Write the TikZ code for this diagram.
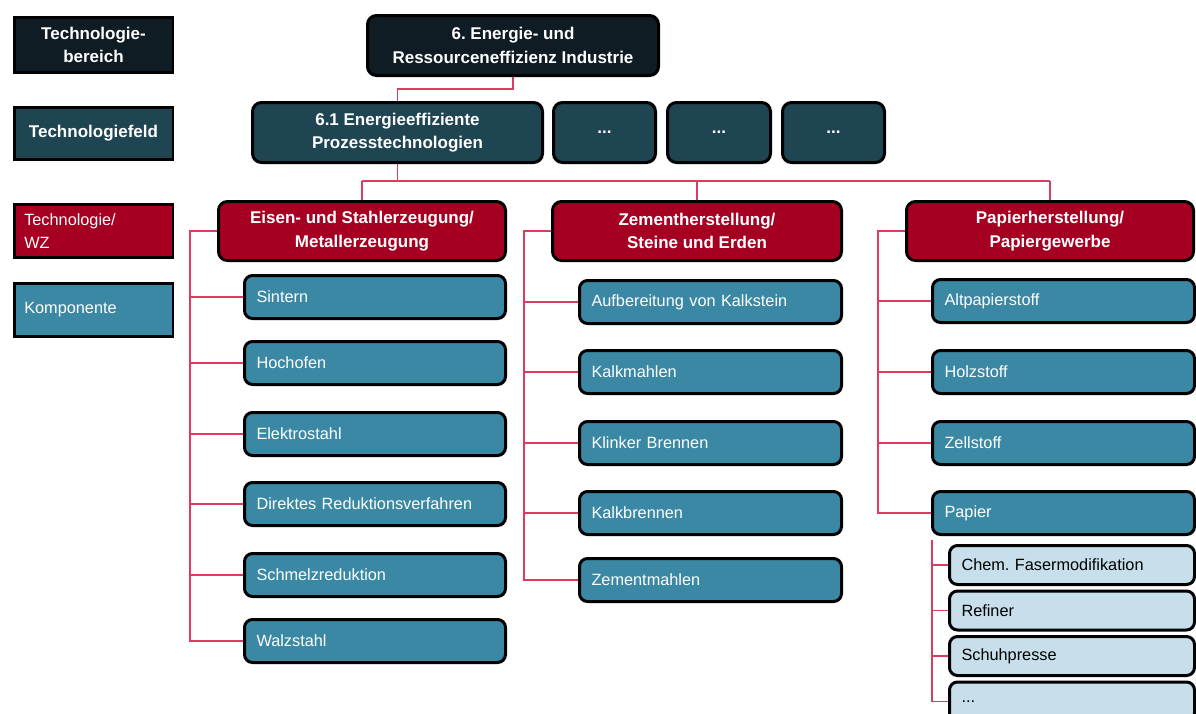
\documentclass[tikz,border=0pt]{standalone}
\usepackage{fontspec}
\setmainfont{Liberation Sans}
\usetikzlibrary{calc}
\definecolor{cdark}{HTML}{0F1C23}
\definecolor{cfeld}{HTML}{1F4452}
\definecolor{cred}{HTML}{A50021}
\definecolor{ccomp}{HTML}{3A88A3}
\definecolor{csub}{HTML}{C6DFEA}
\definecolor{cconn}{HTML}{E03A5E}
\newcommand\bfs{\fontsize{17}{23.5}\selectfont\bfseries}
\newcommand\nfs{\fontsize{16.3}{23}\selectfont}
\pgfdeclarelayer{bg}
\pgfsetlayers{bg,main}
\tikzset{
  bx/.style={draw=black, line width=3pt, rounded corners=9pt, text=white, align=center, inner sep=0pt, font=\bfs},
  comp/.style={draw=black, line width=3pt, rounded corners=8pt, fill=ccomp, text=white, font=\nfs, anchor=west,
    outer sep=0pt, inner xsep=12pt, inner ysep=0pt, minimum height=43pt, align=left, text width=#1},
  sub/.style={comp=#1, fill=csub, text=black, minimum height=39pt},
  leg/.style={draw=black, line width=2.5pt, minimum width=158.5pt, text=white, inner sep=0pt},
  legl/.style={leg, align=left, text width=138.5pt, inner xsep=10pt, font=\nfs},
  legc/.style={leg, align=center, font=\bfs},
  conn/.style={draw=cconn, line width=1.6pt}
}
\begin{document}
\frenchspacing
\begin{tikzpicture}[x=1pt,y=-1pt]
\useasboundingbox (0,0) rectangle (1196,713);
\clip (0,0) rectangle (1196,713);

% legend
\node[legc, fill=cdark, minimum height=55pt] (l1) at (93.5,45) {Technologie-\\bereich};
\node[legc, fill=cfeld, minimum height=52pt] (l2) at (93.5,133.5) {Technologiefeld};
\node[legl, fill=cred, minimum height=53pt] (l3) at (93.5,231) {Technologie/\\WZ};
\node[legl, fill=ccomp, minimum height=53pt] (l4) at (93.5,310) {Komponente};

% top
\node[bx, fill=cdark, minimum width=291pt, minimum height=60pt] (top) at (513,45.5) {6. Energie- und\\Ressourceneffizienz Industrie};

% technologiefelder
\node[bx, fill=cfeld, minimum width=290pt, minimum height=60pt] (f61) at (397.5,132.5) {6.1 Energieeffiziente\\Prozesstechnologien};
\node[bx, fill=cfeld, minimum width=102pt, minimum height=60pt] (d1) at (604.5,132.5) {...};
\node[bx, fill=cfeld, minimum width=103pt, minimum height=60pt] (d2) at (719,132.5) {...};
\node[bx, fill=cfeld, minimum width=102pt, minimum height=60pt] (d3) at (833.5,132.5) {...};

% technologien
\node[bx, fill=cred, minimum width=287pt, minimum height=59pt] (eisen) at (362,231) {Eisen- und Stahlerzeugung/\\Metallerzeugung};
\node[bx, fill=cred, minimum width=289pt, minimum height=59pt] (zement) at (697,231) {Zementherstellung/\\Steine und Erden};
\node[bx, fill=cred, minimum width=287pt, minimum height=59pt] (papier) at (1050,231) {Papierherstellung/\\Papiergewerbe};

% Eisen components
\node[comp=237pt] (e1) at (244.5,297) {Sintern};
\node[comp=237pt] (e2) at (244.5,363) {Hochofen};
\node[comp=237pt] (e3) at (244.5,434) {Elektrostahl};
\node[comp=237pt] (e4) at (244.5,504) {Direktes Reduktionsverfahren};
\node[comp=237pt] (e5) at (244.5,575) {Schmelzreduktion};
\node[comp=237pt] (e6) at (244.5,641) {Walzstahl};

% Zement components
\node[comp=238pt] (z1) at (579.5,302) {Aufbereitung von Kalkstein};
\node[comp=238pt] (z2) at (579.5,372) {Kalkmahlen};
\node[comp=238pt] (z3) at (579.5,443) {Klinker Brennen};
\node[comp=238pt] (z4) at (579.5,513) {Kalkbrennen};
\node[comp=238pt] (z5) at (579.5,580) {Zementmahlen};

% Papier components
\node[comp=238pt] (p1) at (932.5,301) {Altpapierstoff};
\node[comp=238pt] (p2) at (932.5,372) {Holzstoff};
\node[comp=238pt] (p3) at (932.5,443) {Zellstoff};
\node[comp=238pt] (p4) at (932.5,513) {Papier};

% Papier sub components
\node[sub=221pt] (s1) at (949.5,565) {Chem. Fasermodifikation};
\node[sub=221pt] (s2) at (949.5,610.5) {Refiner};
\node[sub=221pt] (s3) at (949.5,656) {Schuhpresse};
\node[sub=221pt] (s4) at (949.5,701.5) {...};

% connectors
\coordinate (h1) at (0,89);
\coordinate (h2) at (0,181);
\coordinate (eb) at (190,0);
\coordinate (zb) at (524,0);
\coordinate (pb) at (878,0);
\coordinate (sb) at (932,540);
\begin{pgfonlayer}{bg}
\draw[conn] (top.south) -- (top.south |- h1) -| (f61.north);
\draw[conn] (f61.south) -- (f61.south |- h2);
\draw[conn] (eisen.north |- h2) -- (papier.north |- h2);
\draw[conn] (eisen.north |- h2) -- (eisen.north);
\draw[conn] (zement.north |- h2) -- (zement.north);
\draw[conn] (papier.north |- h2) -- (papier.north);

\draw[conn] (eisen.west) -- (eisen.west -| eb) |- (e6.west);
\foreach \n in {e1,e2,e3,e4,e5} \draw[conn] (\n.west -| eb) -- (\n.west);

\draw[conn] (zement.west) -- (zement.west -| zb) |- (z5.west);
\foreach \n in {z1,z2,z3,z4} \draw[conn] (\n.west -| zb) -- (\n.west);

\draw[conn] (papier.west) -- (papier.west -| pb) |- (p4.west);
\foreach \n in {p1,p2,p3} \draw[conn] (\n.west -| pb) -- (\n.west);

\draw[conn] (sb) |- (s4.west);
\foreach \n in {s1,s2,s3} \draw[conn] (\n.west -| sb) -- (\n.west);
\end{pgfonlayer}
\end{tikzpicture}
\end{document}
